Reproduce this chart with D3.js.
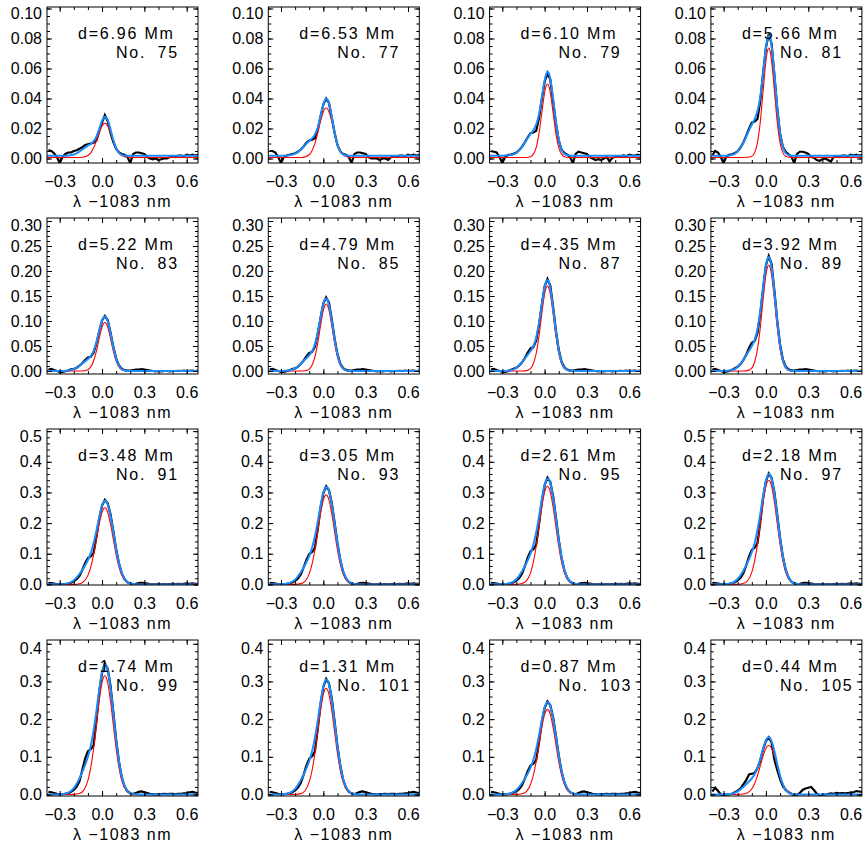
<!DOCTYPE html>
<html>
<head>
<meta charset="utf-8">
<script src="https://cdn.jsdelivr.net/npm/d3@7"></script>
<style>
  body { margin: 0; background: #fff; }
  svg text { font-family: "Liberation Sans", Arial, Helvetica, sans-serif; font-size: 16px; fill: #000; }
</style>
</head>
<body>
<script>
/******************************************************************************/
/* DATA                                                                       */
/******************************************************************************/
var distances  = ['6.96','6.53','6.10','5.66','5.22','4.79','4.35','3.92',
                  '3.48','3.05','2.61','2.18','1.74','1.31','0.87','0.44'];
var profileNos = [75, 77, 79, 81, 83, 85, 87, 89, 91, 93, 95, 97, 99, 101, 103, 105];

var xTicks = [-0.3, 0.0, 0.3, 0.6];
var yTicks = [[0, 0.02, 0.04, 0.06, 0.08, 0.10],
              [0, 0.05, 0.10, 0.15, 0.20, 0.25, 0.30],
              [0, 0.1, 0.2, 0.3, 0.4, 0.5],
              [0, 0.1, 0.2, 0.3, 0.4]];
var yRanges = [[-0.003, 0.101], [-0.006, 0.306], [-0.002, 0.507], [-0.004, 0.41]];

// wavelength grid of the observed profiles (nm from 1083)
var obsX = [-0.38,-0.36,-0.34,-0.32,-0.30,-0.28,-0.26,-0.24,-0.22,-0.20,-0.18,-0.16,-0.14,-0.12,-0.10,-0.08,-0.06,-0.04,
            -0.02,0.00,0.02,0.04,0.06,0.08,0.10,0.12,0.14,0.16,0.18,0.20,0.22,0.24,0.26,0.28,0.30,0.32,
            0.34,0.36,0.38,0.40,0.42,0.44,0.46,0.48,0.50,0.52,0.54,0.56,0.58,0.60,0.62,0.64,0.66,0.68];
// wavelength grid of the fitted profiles
var fitX = [-0.39,-0.30,-0.25,-0.20,-0.16,-0.13,-0.10,-0.08,-0.06,-0.04,-0.02,0.00,0.01,0.02,
            0.03,0.04,0.06,0.08,0.10,0.12,0.14,0.17,0.20,0.25,0.35,0.50,0.68];

// observed profiles (black)
var observed = [
  [0.0057,0.005,0.0035,0.001,-0.003,0.001,0.003,0.004,0.004,0.005,0.0055,0.0065,0.0075,0.009,0.0095,0.010,0.0105,0.012,
   0.018,0.024,0.029,0.025,0.017,0.011,0.0065,0.004,0.003,0.0025,0.001,-0.003,0.003,0.004,0.004,0.0035,0.003,0.001,
   0,-0.0005,0,-0.001,-0.0005,0,0,0.001,0.0015,0.001,0.002,0.002,0.0015,0.0025,0.002,0.0025,0.002,0.0025],
  [0.005,0.005,0.004,0.001,-0.003,0.001,0.002,0.0025,0.003,0.0035,0.0045,0.006,0.008,0.0105,0.012,0.0125,0.0135,0.019,
   0.028,0.036,0.040,0.037,0.027,0.017,0.009,0.0047,0.003,0.0025,0.001,-0.003,0.003,0.004,0.004,0.0035,0.003,0.001,
   0,0,0,-0.001,0,0,-0.001,0.001,0.0015,0.001,0.002,0.002,0.0015,0.0025,0.002,0.0025,0.002,0.0025],
  [0.005,0.0045,0.004,0.001,-0.003,0.001,0.0023,0.0026,0.0031,0.004,0.0056,0.0079,0.0108,0.0141,0.0169,0.0174,0.0185,0.0268,
   0.0394,0.051,0.057,0.0526,0.0383,0.0235,0.0119,0.0059,0.0037,0.0026,0.001,-0.003,0.003,0.0045,0.004,0.0035,0.003,0.001,
   0,-0.001,-0.0005,-0.001,0,0.001,-0.002,0.0005,0.001,0.001,0.0015,0.002,0.0015,0.0025,0.002,0.002,0.0025,0.002],
  [0.002,0.005,0.004,0.001,-0.003,0.0015,0.0024,0.0028,0.0036,0.0049,0.0073,0.0107,0.015,0.0198,0.0239,0.0247,0.0263,0.0385,
   0.057,0.074,0.083,0.0765,0.0555,0.0336,0.0166,0.0077,0.0044,0.0028,0.0014,-0.003,0.003,0.0045,0.0045,0.004,0.003,0.001,
   0.0005,-0.001,-0.0015,-0.0005,0,-0.001,-0.002,0.001,0.0015,0.001,0.002,0.002,0.0015,0.0025,0.002,0.0025,0.002,0.0025],
  [0.003,0.004,0.002,0,-0.002,-0.0018,-0.0006,0.0011,0.0032,0.004,0.0066,0.0105,0.0154,0.022,0.027,0.0286,0.0363,0.055,
   0.0792,0.1012,0.11,0.1023,0.077,0.0484,0.0253,0.011,0.0044,0.0017,0.0006,0.001,0.002,0.003,0.003,0.004,0.003,0.002,
   0.001,0,-0.001,0,-0.001,0,0,-0.001,0,0,0.0005,0,0.001,0,0.0005,0.001,0,0.001],
  [0.003,0.004,0.002,0,-0.002,-0.0017,-0.0004,0.0015,0.0039,0.0053,0.0088,0.014,0.0206,0.0294,0.036,0.0382,0.0485,0.0735,
   0.1058,0.1352,0.147,0.1367,0.1029,0.0647,0.0338,0.0147,0.0059,0.0022,0.0007,0.001,0.002,0.003,0.003,0.004,0.003,0.002,
   0.001,0,-0.001,0,-0.001,0,0,-0.001,0,0,0.0005,0,0.001,0,0.0005,0.001,0,0.001],
  [0.003,0.004,0.002,0,-0.002,-0.0016,-0.0003,0.0018,0.0047,0.0066,0.011,0.0175,0.0258,0.0368,0.0451,0.0478,0.0607,0.092,
   0.1325,0.1693,0.184,0.1711,0.1288,0.081,0.0423,0.0184,0.0074,0.0028,0.0009,0.001,0.002,0.003,0.003,0.004,0.003,0.002,
   0.001,0,-0.001,0,-0.001,0,0,-0.001,0,0,0.0005,0,0.001,0,0.0005,0.001,0,0.001],
  [0.003,0.004,0.002,0,-0.002,-0.0015,-0.0001,0.0023,0.0056,0.0083,0.0138,0.0219,0.0322,0.046,0.0564,0.0598,0.0759,0.115,
   0.1656,0.2116,0.23,0.2139,0.161,0.1012,0.0529,0.023,0.0092,0.0035,0.0012,0.001,0.002,0.003,0.003,0.004,0.003,0.002,
   0.001,0,-0.001,0,-0.001,0,0,-0.001,0,0,0.0005,0,0.001,0,0.0005,0.001,0,0.001],
  [0.005,0.004,0.003,0.001,0,0.0006,0.0014,0.0028,0.0055,0.0097,0.0166,0.0276,0.0469,0.069,0.0856,0.0911,0.1021,0.1546,
   0.2153,0.2567,0.276,0.265,0.229,0.1739,0.1159,0.069,0.0359,0.0166,0.0069,0.0028,0.0008,0.002,0.004,0.005,0.004,0.003,
   0.001,0,0,0.001,0,0.001,0,0.001,0.002,0.001,0.002,0.001,0.002,0.003,0.002,0.003,0.002,0.002],
  [0.005,0.004,0.003,0.001,0,0.0006,0.0016,0.0032,0.0064,0.0112,0.0192,0.032,0.0544,0.08,0.0992,0.1056,0.1184,0.1792,
   0.2496,0.2976,0.32,0.3072,0.2656,0.2016,0.1344,0.08,0.0416,0.0192,0.008,0.0032,0.001,0.002,0.004,0.005,0.004,0.003,
   0.001,0,0,0.001,0,0.001,0,0.001,0.002,0.001,0.002,0.001,0.002,0.003,0.002,0.003,0.002,0.002],
  [0.005,0.004,0.003,0.001,0,0.0007,0.0017,0.0035,0.007,0.0122,0.0209,0.0348,0.0592,0.087,0.1079,0.1148,0.1288,0.1949,
   0.2714,0.3236,0.348,0.3341,0.2888,0.2192,0.1462,0.087,0.0452,0.0209,0.0087,0.0035,0.001,0.002,0.004,0.005,0.004,0.003,
   0.001,0,0,0.001,0,0.001,0,0.001,0.002,0.001,0.002,0.001,0.002,0.003,0.002,0.003,0.002,0.002],
  [0.005,0.004,0.003,0.001,0,0.0007,0.0018,0.0036,0.0072,0.0127,0.0217,0.0362,0.0615,0.0905,0.1122,0.1195,0.1339,0.2027,
   0.2824,0.3367,0.362,0.3475,0.3005,0.2281,0.152,0.0905,0.0471,0.0217,0.0091,0.0036,0.0011,0.002,0.004,0.005,0.004,0.003,
   0.001,0,0,0.001,0,0.001,0,0.001,0.002,0.001,0.002,0.001,0.002,0.003,0.002,0.003,0.002,0.002],
  [0.007,0.006,0.004,0.002,0.001,0.0007,0.0017,0.0035,0.007,0.0122,0.0209,0.0348,0.065,0.095,0.115,0.12,0.13,0.1949,
   0.2714,0.3236,0.348,0.3341,0.2888,0.2192,0.1462,0.087,0.0452,0.0209,0.0087,0.0035,0.001,0.004,0.007,0.008,0.006,0.004,
   0.002,0.001,0,0.001,0.001,0.002,0.001,0.002,0.002,0.001,0.002,0.002,0.003,0.004,0.006,0.007,0.005,0.004],
  [0.007,0.006,0.004,0.002,0.001,0.0006,0.0015,0.0031,0.0061,0.0107,0.0184,0.0307,0.0522,0.0768,0.0952,0.1013,0.1136,0.1719,
   0.2395,0.2855,0.307,0.2947,0.2548,0.1934,0.1289,0.0768,0.0399,0.0184,0.0077,0.0031,0.0009,0.004,0.007,0.008,0.006,0.004,
   0.002,0.001,0,0.001,0.001,0.002,0.001,0.002,0.002,0.001,0.002,0.002,0.003,0.004,0.006,0.007,0.005,0.004],
  [0.007,0.006,0.004,0.002,0.001,0.0005,0.0012,0.0025,0.0049,0.0086,0.0148,0.0247,0.042,0.0618,0.0766,0.0815,0.0914,0.1383,
   0.1927,0.2297,0.247,0.2371,0.205,0.1556,0.1037,0.0618,0.0321,0.0148,0.0062,0.0025,0.0007,0.004,0.007,0.008,0.006,0.004,
   0.002,0.001,0,0.001,0.001,0.002,0.001,0.002,0.002,0.001,0.002,0.002,0.003,0.004,0.006,0.007,0.005,0.004],
  [0.008,0.018,0.01,0.0,-0.002,0,0,0.002,0.006,0.01,0.016,0.027,0.038,0.053,0.055,0.057,0.07,0.09,
   0.12,0.142,0.152,0.138,0.092,0.065,0.041,0.022,0.012,0.006,0.002,-0.002,-0.001,0.004,0.012,0.016,0.018,0.02,
   0.012,0.002,-0.002,0,0,0.001,0.003,0.002,0.004,0.003,0.004,0.003,0.004,0.005,0.006,0.009,0.008,0.007]
];

// two-component fit (blue)
var fitTwo = [
  [0.0018,0.0018,0.0019,0.0027,0.0046,0.0067,0.0086,0.0097,0.0114,0.0146,0.0197,0.0251,0.027,0.0278,0.0274,0.0257,0.0195,0.0124,0.0068,0.0037,0.0024,0.0019,0.0018,0.0018,0.0018,0.0018,0.0018],
  [0.0018,0.0018,0.002,0.0032,0.0059,0.0089,0.0117,0.0134,0.0159,0.0206,0.028,0.0359,0.0386,0.0398,0.0392,0.0367,0.0277,0.0172,0.0092,0.0046,0.0027,0.0019,0.0018,0.0018,0.0018,0.0018,0.0018],
  [0.0018,0.0018,0.0021,0.0038,0.0078,0.0123,0.0164,0.0189,0.0226,0.0295,0.0404,0.052,0.056,0.0578,0.0568,0.0532,0.04,0.0245,0.0127,0.0059,0.0031,0.002,0.0018,0.0018,0.0018,0.0018,0.0018],
  [0.0018,0.0018,0.0022,0.0047,0.0104,0.0168,0.0227,0.0262,0.0315,0.0413,0.057,0.0736,0.0792,0.0818,0.0804,0.0752,0.0564,0.0343,0.0173,0.0076,0.0036,0.002,0.0018,0.0018,0.0018,0.0018,0.0018],
  [0,0,0.0007,0.0039,0.0106,0.0172,0.0239,0.0296,0.0399,0.0572,0.0799,0.1006,0.1069,0.109,0.1064,0.0993,0.0756,0.048,0.0251,0.0108,0.0039,0.0005,0,0,0,0,0],
  [0,0,0.0009,0.0052,0.0141,0.0229,0.0318,0.0394,0.0531,0.0761,0.1063,0.1338,0.1422,0.145,0.1415,0.1321,0.1006,0.0638,0.0334,0.0144,0.0052,0.0007,0,0,0,0,0],
  [0,0,0.0011,0.0066,0.0177,0.0288,0.0399,0.0495,0.0666,0.0956,0.1334,0.168,0.1785,0.182,0.1776,0.1658,0.1263,0.0801,0.0419,0.018,0.0066,0.0009,0,0,0,0,0],
  [0,0,0.0014,0.0082,0.0221,0.036,0.0499,0.062,0.0834,0.1197,0.1671,0.2104,0.2237,0.228,0.2225,0.2077,0.1582,0.1003,0.0524,0.0226,0.0082,0.0011,0,0,0,0,0],
  [0,0.0003,0.0025,0.0134,0.0339,0.0543,0.0794,0.1021,0.134,0.1747,0.2195,0.2563,0.2678,0.273,0.2708,0.2615,0.2241,0.1709,0.1155,0.0699,0.0374,0.0117,0.0027,0,0,0,0],
  [0,0.0003,0.0029,0.0156,0.0394,0.0633,0.0925,0.1189,0.1561,0.2035,0.2557,0.2986,0.312,0.318,0.3155,0.3046,0.2611,0.1991,0.1345,0.0814,0.0436,0.0137,0.0032,0,0,0,0],
  [0,0.0003,0.0031,0.0169,0.0428,0.0687,0.1004,0.129,0.1694,0.2208,0.2774,0.324,0.3384,0.345,0.3422,0.3305,0.2832,0.216,0.1459,0.0883,0.0473,0.0148,0.0035,0,0,0,0],
  [0,0.0004,0.0032,0.0176,0.0446,0.0716,0.1048,0.1346,0.1768,0.2304,0.2894,0.338,0.3532,0.36,0.3571,0.3449,0.2956,0.2254,0.1523,0.0922,0.0493,0.0155,0.0036,0,0,0,0],
  [0,0.0003,0.0031,0.0169,0.0428,0.0687,0.1004,0.129,0.1694,0.2208,0.2774,0.324,0.3384,0.345,0.3422,0.3305,0.2832,0.216,0.1459,0.0883,0.0473,0.0148,0.0035,0,0,0,0],
  [0,0.0003,0.0027,0.0149,0.0378,0.0607,0.0888,0.1141,0.1498,0.1952,0.2452,0.2864,0.2992,0.305,0.3026,0.2922,0.2504,0.1909,0.129,0.0781,0.0418,0.0131,0.0031,0,0,0,0],
  [0,0.0002,0.0022,0.012,0.0304,0.0488,0.0713,0.0916,0.1203,0.1568,0.197,0.2301,0.2403,0.245,0.243,0.2347,0.2011,0.1534,0.1036,0.0627,0.0336,0.0105,0.0025,0,0,0,0],
  [0,0.0002,0.0015,0.0081,0.0202,0.031,0.043,0.0538,0.0705,0.0942,0.1211,0.1436,0.1499,0.152,0.1491,0.1415,0.1149,0.0813,0.05,0.0268,0.0125,0.0029,0.0005,0,0,0,0]
];

// single-component fit (red)
var fitOne = [
  [0.0007,0.0007,0.0007,0.0007,0.0007,0.001,0.002,0.0038,0.007,0.0118,0.0173,0.0217,0.023,0.0235,0.023,0.0217,0.0173,0.0118,0.007,0.0038,0.002,0.001,0.0007,0.0007,0.0007,0.0007,0.0007],
  [0.0007,0.0007,0.0007,0.0007,0.0007,0.0011,0.0025,0.0052,0.0099,0.0168,0.0247,0.0312,0.033,0.0337,0.033,0.0312,0.0247,0.0168,0.0099,0.0052,0.0025,0.0011,0.0007,0.0007,0.0007,0.0007,0.0007],
  [0.0007,0.0007,0.0007,0.0007,0.0007,0.0007,0.0012,0.0029,0.0073,0.0166,0.0304,0.0439,0.0482,0.0497,0.0482,0.0439,0.0304,0.0166,0.0073,0.0029,0.0012,0.0007,0.0007,0.0007,0.0007,0.0007,0.0007],
  [0.0007,0.0007,0.0007,0.0007,0.0007,0.0008,0.0015,0.0039,0.0106,0.0244,0.045,0.0651,0.0714,0.0737,0.0714,0.0651,0.045,0.0244,0.0106,0.0039,0.0015,0.0008,0.0007,0.0007,0.0007,0.0007,0.0007],
  [0,0,0,0,0,0.0004,0.0027,0.0082,0.02,0.0399,0.0654,0.0879,0.0946,0.097,0.0946,0.0879,0.0654,0.0399,0.02,0.0082,0.0027,0.0004,0,0,0,0,0],
  [0,0,0,0,0,0.0005,0.0038,0.0114,0.0276,0.0551,0.0903,0.1214,0.1307,0.134,0.1307,0.1214,0.0903,0.0551,0.0276,0.0114,0.0038,0.0005,0,0,0,0,0],
  [0,0,0,0,0,0.0007,0.0048,0.0145,0.035,0.0699,0.1146,0.154,0.1658,0.17,0.1658,0.154,0.1146,0.0699,0.035,0.0145,0.0048,0.0007,0,0,0,0,0],
  [0,0,0,0,0,0.0008,0.0059,0.018,0.0437,0.0871,0.1429,0.1921,0.2067,0.212,0.2067,0.1921,0.1429,0.0871,0.0437,0.018,0.0059,0.0008,0,0,0,0,0],
  [0,0,0,0.0002,0.002,0.0088,0.0295,0.0565,0.0965,0.1465,0.197,0.2355,0.2463,0.25,0.2463,0.2355,0.197,0.1465,0.0965,0.0565,0.0295,0.0088,0.002,0.0001,0,0,0],
  [0,0,0,0.0002,0.0024,0.0102,0.0345,0.066,0.1127,0.1711,0.2301,0.2751,0.2876,0.292,0.2876,0.2751,0.2301,0.1711,0.1127,0.066,0.0345,0.0102,0.0024,0.0001,0,0,0],
  [0,0,0,0.0003,0.0026,0.0112,0.0378,0.0723,0.1235,0.1875,0.2522,0.3014,0.3152,0.32,0.3152,0.3014,0.2522,0.1875,0.1235,0.0723,0.0378,0.0112,0.0026,0.0001,0,0,0],
  [0,0,0,0.0003,0.0028,0.0119,0.0401,0.0768,0.1312,0.1992,0.2679,0.3203,0.3349,0.34,0.3349,0.3203,0.2679,0.1992,0.1312,0.0768,0.0401,0.0119,0.0028,0.0001,0,0,0],
  [0,0,0,0.0003,0.0026,0.011,0.0372,0.0712,0.1216,0.1846,0.2482,0.2967,0.3103,0.315,0.3103,0.2967,0.2482,0.1846,0.1216,0.0712,0.0372,0.011,0.0026,0.0001,0,0,0],
  [0,0,0,0.0002,0.0023,0.0099,0.0333,0.0637,0.1089,0.1653,0.2222,0.2656,0.2778,0.282,0.2778,0.2656,0.2222,0.1653,0.1089,0.0637,0.0333,0.0099,0.0023,0.0001,0,0,0],
  [0,0,0,0.0002,0.0018,0.0079,0.0267,0.0511,0.0872,0.1324,0.1781,0.2129,0.2226,0.226,0.2226,0.2129,0.1781,0.1324,0.0872,0.0511,0.0267,0.0079,0.0018,0.0001,0,0,0],
  [0,0,0,0.0001,0.0011,0.0046,0.0153,0.0294,0.0502,0.0762,0.1024,0.1225,0.1281,0.13,0.1281,0.1225,0.1024,0.0762,0.0502,0.0294,0.0153,0.0046,0.0011,0,0,0,0]
];

/******************************************************************************/
/* GLOBAL                                                                     */
/******************************************************************************/
var width  = 864;
var height = 844;
var boxW = 151, boxH = 156;
var colStep = 221.3, rowStep = 211;
var xDomain = [-0.39, 0.68];
var xMinor = [-0.3, -0.2, -0.1, 0, 0.1, 0.2, 0.3, 0.4, 0.5, 0.6];
var yMinorStep = [0.005, 0.01, 0.02, 0.02];
var yFormat = [d3.format('.2f'), d3.format('.2f'), d3.format('.1f'), d3.format('.1f')];

/******************************************************************************/
/* DRAW                                                                       */
/******************************************************************************/
var initSvg = function() {
  return d3.select('body').append('svg')
    .attr('width', width)
    .attr('height', height);
};

var minorValues = function(dom, step) {
  var out = [];
  for (var v = Math.ceil(dom[0] / step) * step; v <= dom[1] + 1e-9; v += step) out.push(+v.toFixed(4));
  return out;
};

var styleAxis = function(g) {
  g.select('.domain').remove();
  g.selectAll('line').attr('stroke', '#000').attr('stroke-width', 1);
  return g;
};

var drawPanel = function(p) {
  var r = Math.floor(p / 4), c = p % 4;
  var left = 47 + c * colStep, top = 7 + r * rowStep;
  var x = d3.scaleLinear().domain(xDomain).range([left, left + boxW]);
  var y = d3.scaleLinear().domain(yRanges[r]).range([top + boxH, top]);
  var g = svg.append('g');

  g.append('clipPath').attr('id', 'clip' + p)
    .append('rect').attr('x', left).attr('y', top).attr('width', boxW).attr('height', boxH);

  var plot = g.append('g').attr('clip-path', 'url(#clip' + p + ')');
  var lineOn = function(xs, curve) {
    return d3.line().x(function(d, i) { return x(xs[i]); }).y(function(d) { return y(d); }).curve(curve);
  };
  plot.append('path').datum(observed[p])
    .attr('d', lineOn(obsX, d3.curveLinear))
    .attr('fill', 'none').attr('stroke', '#000').attr('stroke-width', 2.2);
  plot.append('path').datum(fitOne[p])
    .attr('d', lineOn(fitX, d3.curveMonotoneX))
    .attr('fill', 'none').attr('stroke', '#ff0000').attr('stroke-width', 1.1);
  plot.append('path').datum(fitTwo[p])
    .attr('d', lineOn(fitX, d3.curveMonotoneX))
    .attr('fill', 'none').attr('stroke', '#1a8cff').attr('stroke-width', 2);

  // box
  g.append('rect').attr('x', left).attr('y', top).attr('width', boxW).attr('height', boxH)
    .attr('fill', 'none').attr('stroke', '#000').attr('stroke-width', 1);

  var yMin = minorValues(yRanges[r], yMinorStep[r]);

  // bottom axis (labels) + minor ticks
  styleAxis(g.append('g').attr('transform', 'translate(0,' + (top + boxH) + ')')
    .call(d3.axisBottom(x).tickValues(xTicks).tickSizeInner(-5).tickSizeOuter(0)
      .tickPadding(13).tickFormat(d3.format('.1f'))));
  styleAxis(g.append('g').attr('transform', 'translate(0,' + (top + boxH) + ')')
    .call(d3.axisBottom(x).tickValues(xMinor).tickSizeInner(-3).tickSizeOuter(0).tickFormat('')));
  // top axis
  styleAxis(g.append('g').attr('transform', 'translate(0,' + top + ')')
    .call(d3.axisTop(x).tickValues(xTicks).tickSizeInner(-5).tickSizeOuter(0).tickFormat('')));
  styleAxis(g.append('g').attr('transform', 'translate(0,' + top + ')')
    .call(d3.axisTop(x).tickValues(xMinor).tickSizeInner(-3).tickSizeOuter(0).tickFormat('')));
  // left axis (labels); the top label sits a little lower, as in the original
  var yLeft = g.append('g').attr('transform', 'translate(' + left + ',0)')
    .call(d3.axisLeft(y).tickValues(yTicks[r]).tickSizeInner(-5).tickSizeOuter(0)
      .tickPadding(5).tickFormat(yFormat[r]));
  styleAxis(yLeft);
  yLeft.selectAll('.tick text').filter(function(d, i, n) { return i === n.length - 1; })
    .attr('dy', '0.62em');
  styleAxis(g.append('g').attr('transform', 'translate(' + left + ',0)')
    .call(d3.axisLeft(y).tickValues(yMin).tickSizeInner(-3).tickSizeOuter(0).tickFormat('')));
  // right axis
  styleAxis(g.append('g').attr('transform', 'translate(' + (left + boxW) + ',0)')
    .call(d3.axisRight(y).tickValues(yTicks[r]).tickSizeInner(-5).tickSizeOuter(0).tickFormat('')));
  styleAxis(g.append('g').attr('transform', 'translate(' + (left + boxW) + ',0)')
    .call(d3.axisRight(y).tickValues(yMin).tickSizeInner(-3).tickSizeOuter(0).tickFormat('')));

  g.selectAll('.tick text').attr('font-size', 16).attr('font-family', '"Liberation Sans", Arial, sans-serif')
    .attr('fill', '#000');

  // axis title
  g.append('text').attr('x', left + boxW / 2).attr('y', top + boxH + 44)
    .attr('text-anchor', 'middle').style('letter-spacing', '1.5px')
    .text('\u03bb \u22121083 nm');

  // annotation
  g.append('text').attr('x', left + 31).attr('y', top + 32).style('letter-spacing', '1.8px')
    .text('d=' + distances[p] + ' Mm');
  g.append('text').attr('x', left + 69).attr('y', top + 51).style('letter-spacing', '1.8px')
    .style('word-spacing', '5px')
    .text('No. ' + profileNos[p]);
};

/******************************************************************************/
/* RUNTIME                                                                    */
/******************************************************************************/
var svg = initSvg();
d3.range(16).forEach(drawPanel);
</script>
</body>
</html>
